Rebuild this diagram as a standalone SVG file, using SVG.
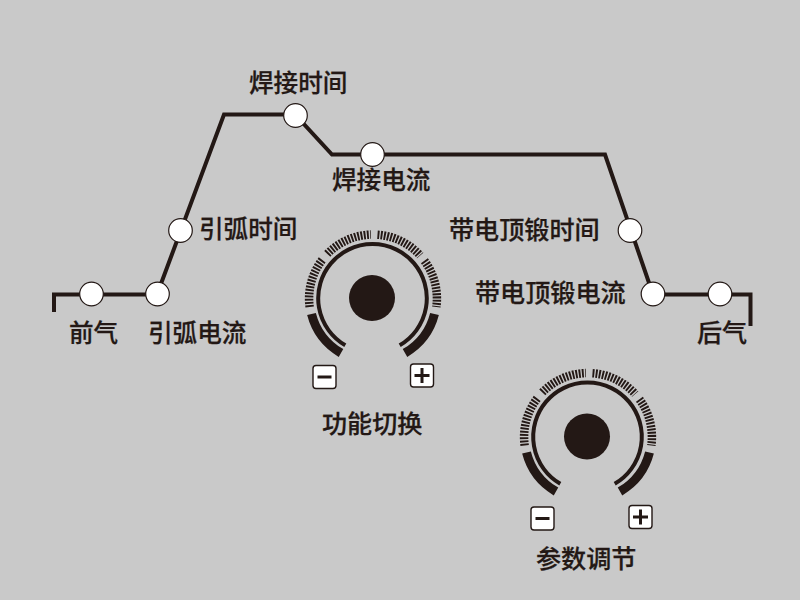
<svg xmlns="http://www.w3.org/2000/svg" width="800" height="600" viewBox="0 0 800 600">
<style>
.t{font-family:"Noto Sans CJK SC","Noto Sans",sans-serif;font-size:24.6px;font-weight:500;fill:#231815;stroke:#231815;stroke-width:.25}
.w{font-size:25.100px}
.d{fill:#fff;stroke:#231815;stroke-width:1.2}
.l{fill:none;stroke:#231815;stroke-width:4}
.tk{fill:none;stroke:#231815;stroke-width:8.500;stroke-dasharray:1.9 1.3}
.th{fill:none;stroke:#231815;stroke-width:9}
.r{fill:none;stroke:#231815;stroke-width:4}
.b{fill:#fff;stroke:#231815;stroke-width:1.4}
.s{fill:none;stroke:#231815;stroke-width:3}
</style>
<defs>
<g id="knob">
<circle r="23" fill="#231815"/>
<path class="r" d="M-26.7 47.3A54.3 54.3 0 1 1 27.700 47.3"/>
<g transform="translate(1 0)">
<path class="th" d="M-61.500 16A63.500 63.500 0 0 0 -32 55M61.500 16A63.500 63.500 0 0 1 32 55"/>
<path class="tk" d="M-63.350 9A63.500 63.500 0 0 1 -50.700 -38.200"/>
<path class="tk" d="M-45.700 -44.100A63.500 63.500 0 0 1 -2.200 -63.460"/>
<path class="tk" d="M4.500 -63.300A63.500 63.500 0 0 1 47.200 -42.500"/>
<path class="tk" d="M51.400 -37.300A63.500 63.500 0 0 1 63.350 9"/>
</g>
</g>
<g id="minus"><rect x="-11.500" y="-11.500" width="23" height="23" rx="3" class="b"/><path class="s" d="M-7 0H7"/></g>
<g id="plus"><rect x="-11.500" y="-11.500" width="23" height="23" rx="3" class="b"/><path class="s" d="M-7.500 0H7.500M0 -7.500V7.500"/></g>
</defs>
<rect width="800" height="600" fill="#c9c9c9"/>
<g id="connectors">
<path class="l" d="M54 312V294.500H157L224 114.500H295L332 154.500H605L653 294.500H750.500V326"/>
</g>
<g id="node-qianqi"><circle class="d" cx="91.500" cy="294" r="11.800"/><text class="t" x="69" y="341.500">前气</text></g>
<g id="node-yinhu-dianliu"><circle class="d" cx="157.500" cy="294" r="11.800"/><text class="t" x="148" y="341.500">引弧电流</text></g>
<g id="node-yinhu-shijian"><circle class="d" cx="180.500" cy="230.500" r="11.800"/><text class="t" x="199" y="237.500">引弧时间</text></g>
<g id="node-hanjie-shijian"><circle class="d" cx="295.500" cy="115.500" r="11.800"/><text class="t" x="249" y="91.500">焊接时间</text></g>
<g id="node-hanjie-dianliu"><circle class="d" cx="372.500" cy="154.500" r="11.800"/><text class="t" x="332" y="188.500">焊接电流</text></g>
<g id="node-dingduan-shijian"><circle class="d" cx="630" cy="230.500" r="11.800"/><text class="t w" x="449" y="238.500">带电顶锻时间</text></g>
<g id="node-dingduan-dianliu"><circle class="d" cx="653" cy="294" r="11.800"/><text class="t w" x="475" y="301.500">带电顶锻电流</text></g>
<g id="node-houqi"><circle class="d" cx="720" cy="294" r="11.800"/><text class="t w" x="697" y="341.500">后气</text></g>
<g id="knob-function">
<use href="#knob" transform="translate(372 298)"/>
<use href="#minus" transform="translate(324.500 377)"/>
<use href="#plus" transform="translate(422 375.500)"/>
<text class="t w" x="322" y="432.500">功能切换</text>
</g>
<g id="knob-param">
<use href="#knob" transform="translate(587 436.500)"/>
<use href="#minus" transform="translate(542.500 518.500)"/>
<use href="#plus" transform="translate(640.500 517)"/>
<text class="t w" x="536" y="567.500">参数调节</text>
</g>
</svg>
